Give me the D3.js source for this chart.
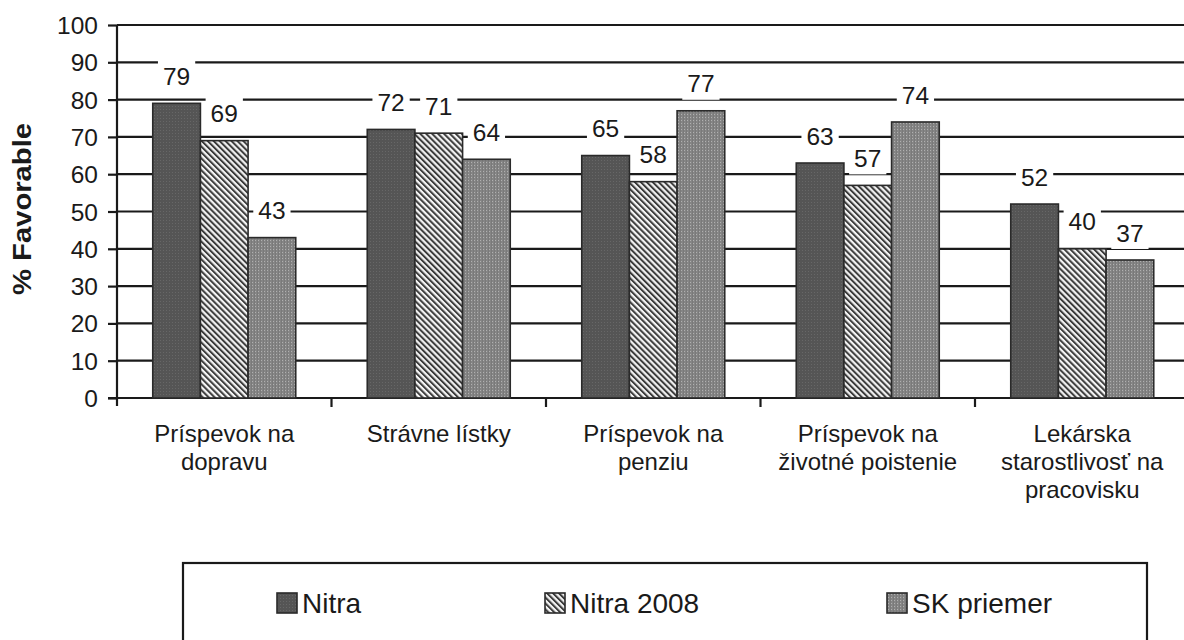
<!DOCTYPE html>
<html>
<head>
<meta charset="utf-8">
<script src="https://cdn.jsdelivr.net/npm/d3@7"></script>
<style>
  html, body { margin: 0; padding: 0; background: #fff; }
  svg { display: block; font-family: "Liberation Sans", Arial, sans-serif; }
</style>
</head>
<body>
<svg id="chart" width="1184" height="640"></svg>
<script>
// ---- data ----
const categories = [
  "Príspevok na\ndopravu",
  "Strávne lístky",
  "Príspevok na\npenziu",
  "Príspevok na\nživotné poistenie",
  "Lekárska\nstarostlivosť na\npracovisku"
];
const seriesNames = ["Nitra", "Nitra 2008", "SK priemer"];
const nitra     = [79, 72, 65, 63, 52];
const nitra2008 = [69, 71, 58, 57, 40];
const skPriemer = [43, 64, 77, 74, 37];
const yTicks = [0, 10, 20, 30, 40, 50, 60, 70, 80, 90, 100];
const yTitle = "% Favorable";

const seriesValues = [nitra, nitra2008, skPriemer];
const patternIds = ["pNitra", "pNitra2008", "pSK"];

// ---- layout ----
const svg = d3.select("#chart");
const plotLeft = 117, plotTop = 25, plotBottom = 398;
const bandW = 214.5;
const ink = "#1a1a1a";
const legendSwatchX = [277, 545, 887];

const x0 = d3.scaleBand().domain(categories).range([plotLeft, plotLeft + bandW * categories.length]).paddingInner(0).paddingOuter(0);
const x1 = d3.scaleBand().domain(seriesNames).range([0, x0.bandwidth()]).paddingInner(0).paddingOuter(0.75);
const y = d3.scaleLinear().domain([0, 100]).range([plotBottom, plotTop]);

// ---- patterns ----
const defs = svg.append("defs");
let p = defs.append("pattern").attr("id", "pNitra").attr("patternUnits", "userSpaceOnUse").attr("width", 3).attr("height", 3);
p.append("rect").attr("width", 3).attr("height", 3).attr("fill", "#555555");
p.append("rect").attr("x", 1).attr("y", 1).attr("width", 1).attr("height", 1).attr("fill", "#676767");
p = defs.append("pattern").attr("id", "pNitra2008").attr("patternUnits", "userSpaceOnUse")
  .attr("width", 4.2).attr("height", 4.2).attr("patternTransform", "rotate(-45)");
p.append("rect").attr("width", 4.2).attr("height", 4.2).attr("fill", "#f4f4f4");
p.append("rect").attr("x", 0).attr("y", 0).attr("width", 2).attr("height", 4.2).attr("fill", "#3c3c3c");
p = defs.append("pattern").attr("id", "pSK").attr("patternUnits", "userSpaceOnUse").attr("width", 3).attr("height", 3);
p.append("rect").attr("width", 3).attr("height", 3).attr("fill", "#858585");
p.append("rect").attr("x", 0).attr("y", 0).attr("width", 1).attr("height", 1).attr("fill", "#b0b0b0");
p.append("rect").attr("x", 2).attr("y", 0).attr("width", 1).attr("height", 3).attr("fill", "#7a7a7a");

// ---- gridlines ----
const grid = svg.append("g");
grid.selectAll("line").data(yTicks.filter(t => t > 0)).join("line")
  .attr("x1", plotLeft).attr("x2", 1184)
  .attr("y1", d => y(d)).attr("y2", d => y(d))
  .attr("stroke", ink).attr("stroke-width", 2.2);

// ---- y axis ----
const yAxis = d3.axisLeft(y).tickValues(yTicks).tickSize(9).tickPadding(10);
const gy = svg.append("g").attr("transform", `translate(${plotLeft},0)`).call(yAxis);
gy.select(".domain").attr("stroke", ink).attr("stroke-width", 2.2).attr("d", `M0,${plotTop}V${plotBottom + 8}`);
gy.selectAll(".tick line").attr("stroke", ink).attr("stroke-width", 2.2);
gy.selectAll(".tick text").attr("font-size", 24.5).attr("fill", ink)
  .attr("font-family", "Liberation Sans, Arial, sans-serif").attr("dy", "0.35em");

// ---- x axis ----
const xAxisG = svg.append("g");
xAxisG.append("line").attr("x1", plotLeft - 9).attr("x2", 1184).attr("y1", plotBottom).attr("y2", plotBottom)
  .attr("stroke", ink).attr("stroke-width", 2.2);
xAxisG.selectAll("line.tk").data(categories.slice(1)).join("line").attr("class", "tk")
  .attr("x1", d => x0(d)).attr("x2", d => x0(d)).attr("y1", plotBottom).attr("y2", plotBottom + 9)
  .attr("stroke", ink).attr("stroke-width", 2.2);
const catLabels = xAxisG.selectAll("text.cat").data(categories).join("text").attr("class", "cat")
  .attr("text-anchor", "middle").attr("font-size", 24).attr("fill", ink)
  .attr("x", d => x0(d) + x0.bandwidth() / 2).attr("y", plotBottom + 44);
catLabels.each(function(d) {
  const lines = d.split("\n");
  const t = d3.select(this);
  lines.forEach((ln, i) => {
    t.append("tspan").attr("x", x0(d) + x0.bandwidth() / 2).attr("dy", i === 0 ? 0 : 28).text(ln);
  });
});

// ---- bars ----
const barsG = svg.append("g");
seriesNames.forEach((s, si) => {
  barsG.selectAll(null).data(categories).join("rect")
    .attr("x", d => x0(d) + x1(s))
    .attr("y", (d, i) => y(seriesValues[si][i]))
    .attr("width", x1.bandwidth())
    .attr("height", (d, i) => plotBottom - y(seriesValues[si][i]))
    .attr("fill", `url(#${patternIds[si]})`)
    .attr("stroke", "#2a2a2a").attr("stroke-width", 1.6);
});

// ---- data labels with white boxes ----
const labG = svg.append("g");
seriesNames.forEach((s, si) => {
  categories.forEach((c, i) => {
    const v = seriesValues[si][i];
    const cx = x0(c) + x1(s) + x1.bandwidth() / 2;
    const cy = y(v) - 27;
    const g = labG.append("g");
    const txt = g.append("text").attr("x", cx).attr("y", cy).attr("dy", "0.35em")
      .attr("text-anchor", "middle").attr("font-size", 24.5).attr("fill", ink).text(v);
    const bb = txt.node().getBBox();
    g.insert("rect", "text").attr("x", bb.x - 5).attr("y", cy - 16).attr("width", bb.width + 10).attr("height", 32)
      .attr("fill", "#fff");
  });
});

// ---- y title ----
svg.append("text").attr("transform", `translate(31,209) rotate(-90)`)
  .attr("text-anchor", "middle").attr("font-size", 25).attr("font-weight", "bold").attr("fill", ink)
  .attr("textLength", 172).attr("lengthAdjust", "spacingAndGlyphs")
  .text(yTitle);

// ---- legend ----
const lg = svg.append("g");
lg.append("rect").attr("x", 183).attr("y", 563).attr("width", 964).attr("height", 100)
  .attr("fill", "#fff").attr("stroke", ink).attr("stroke-width", 2.2);
seriesNames.forEach((s, si) => {
  const lx = legendSwatchX[si];
  lg.append("rect").attr("x", lx).attr("y", 593).attr("width", 20).attr("height", 20)
    .attr("fill", `url(#${patternIds[si]})`).attr("stroke", "#2a2a2a").attr("stroke-width", 1.6);
  lg.append("text").attr("x", lx + 25).attr("y", 613).attr("font-size", 28).attr("fill", ink).text(s);
});
</script>
</body>
</html>
